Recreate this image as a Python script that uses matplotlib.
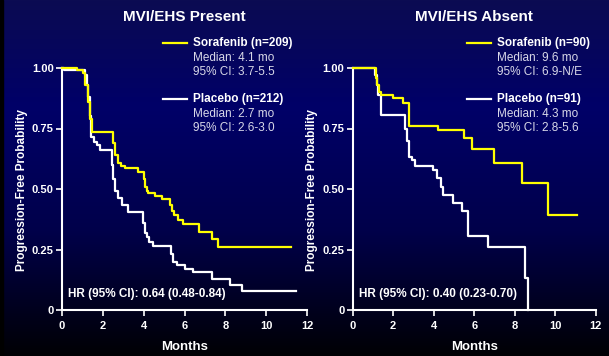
import numpy as np
import matplotlib
matplotlib.use("Agg")
import matplotlib.pyplot as plt
from matplotlib.colors import LinearSegmentedColormap

plt.rcParams['font.family'] = ['Liberation Sans', 'DejaVu Sans']

# ---- Kaplan-Meier step data (months, progression-free probability) ----
present_sora_t = [0, 0.72, 1.03, 1.15, 1.25, 1.35, 1.45, 2.51, 2.6, 2.75, 2.9, 3.1, 3.74, 4.02, 4.08,
                  4.15, 4.23, 4.56, 4.92, 5.29, 5.4, 5.5, 5.7, 5.95, 6.72, 7.34, 7.63, 11.2]
present_sora_s = [1.0, 0.99, 0.98, 0.93, 0.86, 0.79, 0.737, 0.689, 0.64, 0.606, 0.595, 0.586, 0.572, 0.54, 0.51,
                  0.493, 0.482, 0.472, 0.457, 0.434, 0.41, 0.393, 0.372, 0.355, 0.324, 0.292, 0.259, 0.259]

present_plac_t = [0, 0.12, 1.13, 1.2, 1.29, 1.35, 1.42, 1.55, 1.7, 1.86, 2.43, 2.5, 2.6, 2.75, 2.92, 3.25,
                  3.95, 4.05, 4.15, 4.25, 4.48, 5.34, 5.45, 5.62, 6.03, 6.4, 7.37, 8.24, 8.84, 11.47]
present_plac_s = [1.0, 0.99, 0.97, 0.93, 0.88, 0.80, 0.716, 0.696, 0.682, 0.661, 0.60, 0.54, 0.49, 0.463, 0.435, 0.405,
                  0.36, 0.32, 0.30, 0.28, 0.266, 0.23, 0.20, 0.185, 0.171, 0.157, 0.128, 0.102, 0.077, 0.077]

absent_sora_t = [0, 1.15, 1.22, 1.3, 1.4, 2.0, 2.5, 2.8, 4.2, 5.5, 5.88, 6.98, 8.37, 9.66, 11.1]
absent_sora_s = [1.0, 0.96, 0.93, 0.90, 0.89, 0.877, 0.854, 0.762, 0.744, 0.712, 0.664, 0.609, 0.525, 0.391, 0.391]

absent_plac_t = [0, 1.1, 1.2, 1.27, 1.4, 2.58, 2.7, 2.8, 2.91, 3.08, 3.98, 4.18, 4.35, 4.47, 4.94, 5.41,
                 5.71, 6.67, 8.51, 8.67]
absent_plac_s = [1.0, 0.97, 0.93, 0.89, 0.806, 0.75, 0.70, 0.634, 0.62, 0.595, 0.579, 0.544, 0.51, 0.475, 0.441, 0.41,
                 0.307, 0.262, 0.131, 0.0]

panel_titles = ["MVI/EHS Present", "MVI/EHS Absent"]
sora_labels = ["Sorafenib (n=209)", "Sorafenib (n=90)"]
sora_median = ["Median: 4.1 mo", "Median: 9.6 mo"]
sora_ci = ["95% CI: 3.7-5.5", "95% CI: 6.9-N/E"]
plac_labels = ["Placebo (n=212)", "Placebo (n=91)"]
plac_median = ["Median: 2.7 mo", "Median: 4.3 mo"]
plac_ci = ["95% CI: 2.6-3.0", "95% CI: 2.8-5.6"]
hr_text = ["HR (95% CI): 0.64 (0.48-0.84)", "HR (95% CI): 0.40 (0.23-0.70)"]

x_ticks = [0, 2, 4, 6, 8, 10, 12]
y_ticks = [0, 0.25, 0.5, 0.75, 1.0]
y_ticklabels = ["0", "0.25", "0.50", "0.75", "1.00"]

W, H = 609, 356
fig = plt.figure(figsize=(W / 100, H / 100), dpi=100)

# background: navy fading to black
bg = fig.add_axes([0, 0, 1, 1], zorder=-10)
cmap = LinearSegmentedColormap.from_list(
    "bg", [(0.0, "#0b0b52"), (0.3, "#000068"), (0.65, "#00004a"), (1.0, "#000004")])
grad = np.linspace(0, 1, 256).reshape(-1, 1)
bg.imshow(grad, aspect="auto", cmap=cmap, extent=[0, 1, 0, 1], origin="upper")
bg.add_patch(plt.Rectangle((0, 0), 3 / W, 1, color="black", transform=bg.transAxes))
bg.set_axis_off()

YEL = "#ffff00"
WHT = "#ffffff"
SUB = "#d8d8e8"

panels = [
    dict(x0=62, x1=307, sora=(present_sora_t, present_sora_s), plac=(present_plac_t, present_plac_s),
         leg_x=163, ylab_x=22),
    dict(x0=352.7, x1=595.7, sora=(absent_sora_t, absent_sora_s), plac=(absent_plac_t, absent_plac_s),
         leg_x=467, ylab_x=312),
]

y_top, y_bot = 68, 310
for i, p in enumerate(panels):
    ax = fig.add_axes([p["x0"] / W, 1 - y_bot / H, (p["x1"] - p["x0"]) / W, (y_bot - y_top) / H])
    ax.set_facecolor("none")
    ax.set_xlim(0, 12)
    ax.set_ylim(0, 1)
    for side in ["top", "right"]:
        ax.spines[side].set_visible(False)
    for side in ["left", "bottom"]:
        ax.spines[side].set_color(WHT)
        ax.spines[side].set_linewidth(1.5)
    ax.tick_params(colors=WHT, length=4, width=1.2, labelsize=8, pad=2)
    ax.tick_params(axis="x", pad=4)
    ax.set_xticks(x_ticks)
    ax.set_xticklabels([str(v) for v in x_ticks], fontweight="bold", color=WHT)
    ax.set_yticks(y_ticks)
    ax.set_yticklabels(y_ticklabels, fontweight="bold", color=WHT)

    ax.step(p["plac"][0], p["plac"][1], where="post", color=WHT, lw=1.6, clip_on=False, zorder=3)
    ax.step(p["sora"][0], p["sora"][1], where="post", color=YEL, lw=1.6, clip_on=False, zorder=4)

    ax.set_xlabel("Months", color=WHT, fontweight="bold", fontsize=9.5, labelpad=7)
    ax.text(0.3, 0.04, hr_text[i], color=WHT, fontweight="bold", fontsize=8.5,
            ha="left", va="bottom", transform=ax.transData)

    cx = (p["x0"] + p["x1"]) / 2
    fig.text(cx / W, 1 - 17 / H, panel_titles[i], color=WHT, fontweight="bold",
             fontsize=11, ha="center", va="center")
    fig.text(p["ylab_x"] / W, 1 - 190 / H, "Progression-Free Probability", color=WHT,
             fontweight="bold", fontsize=8.5, rotation=90, ha="center", va="center")

    # legend block
    lx = p["leg_x"]
    for yline, lab, med, ci, col in [(43, sora_labels[i], sora_median[i], sora_ci[i], YEL),
                                     (99, plac_labels[i], plac_median[i], plac_ci[i], WHT)]:
        fig.add_artist(plt.Line2D([lx / W, (lx + 24) / W], [1 - yline / H, 1 - yline / H],
                                  color=col, lw=1.6))
        fig.text((lx + 30) / W, 1 - yline / H, lab, color=WHT, fontweight="bold",
                 fontsize=8.5, ha="left", va="center")
        fig.text((lx + 30) / W, 1 - (yline + 15) / H, med, color=SUB,
                 fontsize=8.5, ha="left", va="center")
        fig.text((lx + 30) / W, 1 - (yline + 29) / H, ci, color=SUB,
                 fontsize=8.5, ha="left", va="center")

fig.savefig("out.png", dpi=100)
